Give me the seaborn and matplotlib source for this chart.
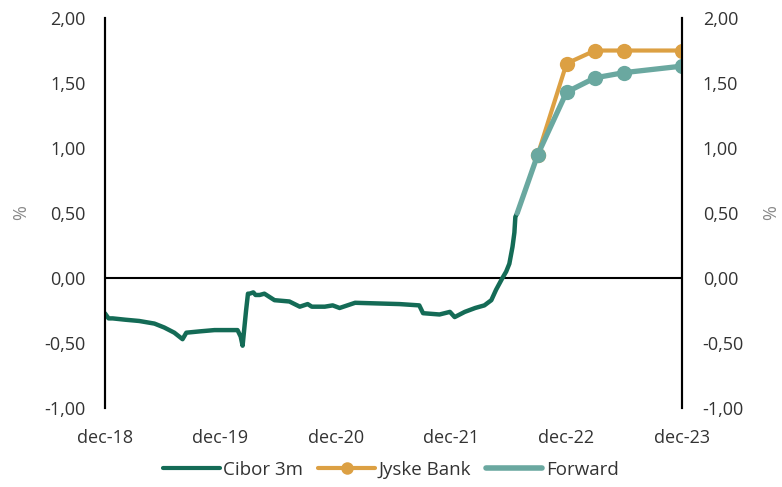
import pandas as pd
import numpy as np
import seaborn as sns
import matplotlib.pyplot as plt
import matplotlib.dates as mdates
from matplotlib.lines import Line2D
from matplotlib.ticker import FuncFormatter

# data
cibor_dates = ['2018-12-01', '2018-12-13', '2018-12-26', '2019-02-03', '2019-03-20', '2019-05-07',
               '2019-06-07', '2019-07-09', '2019-08-04', '2019-08-16', '2019-09-27', '2019-11-13',
               '2020-01-01', '2020-01-25', '2020-02-04', '2020-02-10', '2020-02-21', '2020-02-27',
               '2020-03-03', '2020-03-15', '2020-03-22', '2020-04-04', '2020-04-19', '2020-05-21',
               '2020-07-07', '2020-08-09', '2020-09-03', '2020-09-16', '2020-10-27', '2020-11-21',
               '2020-12-13', '2021-01-31', '2021-06-21', '2021-08-22', '2021-09-03', '2021-10-25',
               '2021-11-27', '2021-12-12', '2022-01-13', '2022-02-15', '2022-03-16', '2022-04-07',
               '2022-04-22', '2022-05-12', '2022-05-24', '2022-06-03', '2022-06-13', '2022-06-19',
               '2022-06-22', '2022-06-28']
cibor_values = [-0.27, -0.31, -0.31, -0.32, -0.33, -0.35,
                -0.38, -0.42, -0.47, -0.42, -0.41, -0.40,
                -0.40, -0.40, -0.45, -0.52, -0.25, -0.12,
                -0.12, -0.11, -0.13, -0.13, -0.12, -0.17,
                -0.18, -0.22, -0.20, -0.22, -0.22, -0.21,
                -0.23, -0.19, -0.20, -0.21, -0.27, -0.28,
                -0.26, -0.30, -0.26, -0.23, -0.21, -0.17,
                -0.09, 0.00, 0.05, 0.11, 0.24, 0.35,
                0.47, 0.50]

forward_dates = ['2022-06-28', '2022-09-01', '2022-12-01', '2023-03-01', '2023-06-01', '2023-12-01']
forward_values = [0.50, 0.95, 1.43, 1.54, 1.58, 1.63]

jyske_dates = ['2022-09-01', '2022-12-01', '2023-03-01', '2023-06-01', '2023-12-01']
jyske_values = [0.95, 1.65, 1.75, 1.75, 1.75]

tick_dates = ['2018-12-01', '2019-12-01', '2020-12-01', '2021-12-01', '2022-12-01', '2023-12-01']
y_ticks = [-1.0, -0.5, 0.0, 0.5, 1.0, 1.5, 2.0]

c_cibor = '#146b56'
c_jyske = '#dca043'
c_fwd = '#6aa8a0'
c_text = '#333333'

sns.set_style('white')
plt.rcParams['font.family'] = ['Open Sans', 'DejaVu Sans']

cibor = pd.DataFrame({'dato': pd.to_datetime(cibor_dates), 'rente': cibor_values})
fwd = pd.DataFrame({'dato': pd.to_datetime(forward_dates), 'rente': forward_values})
jyske = pd.DataFrame({'dato': pd.to_datetime(jyske_dates), 'rente': jyske_values})

fig, ax = plt.subplots(figsize=(7.82, 4.87), dpi=100)
fig.subplots_adjust(left=0.134, right=0.872, top=0.963, bottom=0.162)

ax.axhline(0, color='black', lw=1.5, zorder=1)
sns.lineplot(data=cibor, x='dato', y='rente', ax=ax, color=c_cibor, lw=3.2, zorder=3)
sns.lineplot(data=jyske, x='dato', y='rente', ax=ax, color=c_jyske, lw=3,
             marker='o', markersize=11, markeredgewidth=0, zorder=4)
sns.lineplot(data=fwd, x='dato', y='rente', ax=ax, color=c_fwd, lw=3.8,
             marker='o', markersize=11, markeredgewidth=0, markevery=[1, 2, 3, 4, 5], zorder=5)

ax.set_xlim(pd.Timestamp(tick_dates[0]), pd.Timestamp(tick_dates[-1]))
ax.set_ylim(-1, 2)
ax.set_xticks(pd.to_datetime(tick_dates))
ax.xaxis.set_major_formatter(mdates.DateFormatter('dec-%y'))
ax.set_yticks(y_ticks)
fmt = FuncFormatter(lambda v, p: f'{v:.2f}'.replace('.', ','))
ax.yaxis.set_major_formatter(fmt)
ax.set_xlabel('')
ax.set_ylabel('%', color='#888888', fontsize=13, labelpad=10)
ax.tick_params(axis='y', labelsize=13, length=0, colors=c_text, pad=14)
ax.tick_params(axis='x', labelsize=13, length=0, colors=c_text, pad=15)

ax2 = ax.twinx()
ax2.set_ylim(-1, 2)
ax2.set_yticks(y_ticks)
ax2.yaxis.set_major_formatter(fmt)
ax2.set_ylabel('%', color='#888888', fontsize=13, labelpad=13)
ax2.tick_params(axis='y', labelsize=13, length=0, colors=c_text, pad=15)

for a in (ax, ax2):
    for s in ['top', 'bottom']:
        a.spines[s].set_visible(False)
    a.spines['left'].set_color('black')
    a.spines['right'].set_color('black')
    a.spines['left'].set_linewidth(1.5)
    a.spines['right'].set_linewidth(1.5)

handles = [Line2D([], [], color=c_cibor, lw=3),
           Line2D([], [], color=c_jyske, lw=3, marker='o', markersize=9, markeredgewidth=0),
           Line2D([], [], color=c_fwd, lw=4)]
fig.legend(handles, ['Cibor 3m', 'Jyske Bank', 'Forward'], loc='center', ncol=3,
           bbox_to_anchor=(0.5, 0.035), frameon=False, fontsize=13.5, labelcolor=c_text,
           handlelength=3.0, handletextpad=0.2, columnspacing=0.8)

plt.savefig('out.png', dpi=100)
